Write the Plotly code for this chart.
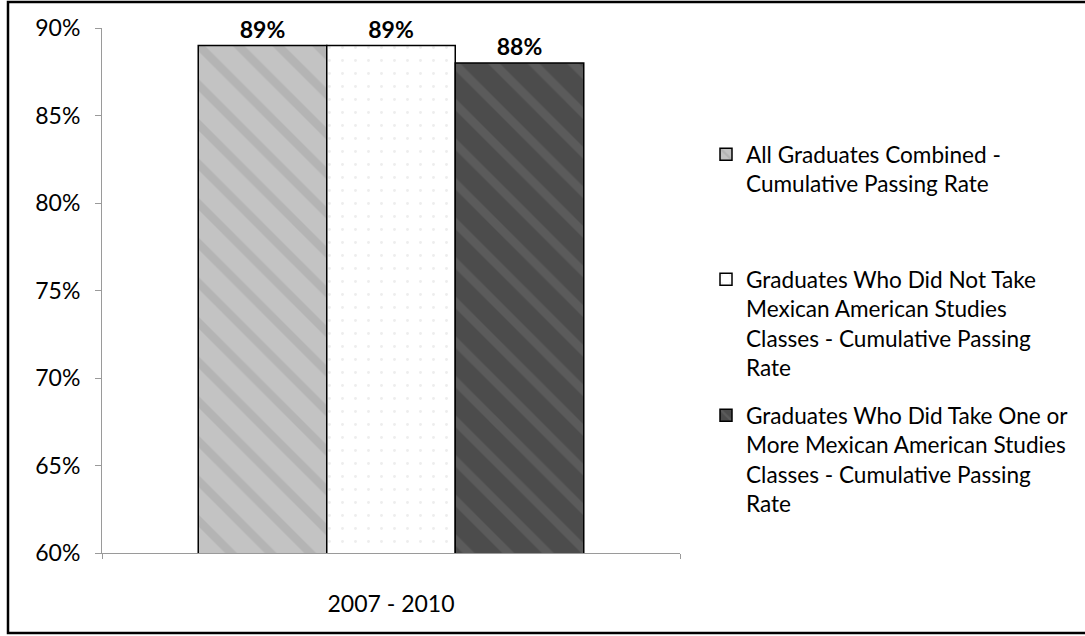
import plotly.graph_objects as go

categories = ["2007 - 2010"]
series_names = [
    "All Graduates Combined -<br>Cumulative Passing Rate",
    "Graduates Who Did Not Take<br>Mexican American Studies<br>Classes - Cumulative Passing<br>Rate",
    "Graduates Who Did Take One or<br>More Mexican American Studies<br>Classes - Cumulative Passing<br>Rate",
]
all_combined = [0.89]
did_not_take = [0.89]
did_take = [0.88]
y_ticks = [0.60, 0.65, 0.70, 0.75, 0.80, 0.85, 0.90]

W, H = 1085, 636
ML, MR, MT, MB = 102, 405, 28, 83
PW, PH = W - ML - MR, H - MT - MB

def px_x(x):
    return (x - ML) / PW

def px_y(y):
    return (H - MB - y) / PH

FONT = "Lato, Carlito, Calibri, 'Open Sans', sans-serif"
FS = 23
LFS = 22.6

styles = [
    dict(color="#c0c0c0", pattern=dict(shape="\\", bgcolor="#c3c3c3", fgcolor="#a2a2a2",
                                        size=28, solidity=0.3, fgopacity=0.45)),
    dict(color="#ffffff", pattern=dict(shape=".", bgcolor="#ffffff", fgcolor="#dcdcdc",
                                        size=13, solidity=0.04, fgopacity=0.5)),
    dict(color="#4f4f4f", pattern=dict(shape="\\", bgcolor="#4c4c4c", fgcolor="#6a6a6a",
                                        size=28, solidity=0.3, fgopacity=0.5)),
]

fig = go.Figure()
values = [all_combined, did_not_take, did_take]
legend_ids = ["legend", "legend2", "legend3"]
for name, vals, st, lg in zip(series_names, values, styles, legend_ids):
    fig.add_trace(go.Bar(
        x=categories, y=vals, name=name,
        marker=dict(color=st["color"], pattern=st["pattern"],
                    line=dict(color="#000000", width=1.5)),
        texttemplate="%{y:.0%}", textposition="outside",
        textfont=dict(family=FONT, size=FS, color="#000000", weight="bold"),
        cliponaxis=False, legend=lg,
    ))

legend_common = dict(
    font=dict(family=FONT, size=LFS, color="#000000"),
    bgcolor="rgba(0,0,0,0)", xanchor="left", yanchor="top",
    xref="container", yref="container",
    valign="top", itemwidth=30, tracegroupgap=0,
)
lx = 706 / W
fig.update_layout(
    legend=dict(x=lx, y=1 - 133 / H, **legend_common),
    legend2=dict(x=lx, y=1 - 258 / H, **legend_common),
    legend3=dict(x=lx, y=1 - 394 / H, **legend_common),
)

fig.update_layout(
    width=W, height=H,
    margin=dict(l=ML, r=MR, t=MT, b=MB, pad=0, autoexpand=False),
    paper_bgcolor="#ffffff", plot_bgcolor="#ffffff",
    barmode="group", bargap=0.333, bargroupgap=0,
    showlegend=True,
    font=dict(family=FONT, size=FS, color="#000000"),
    xaxis=dict(
        showgrid=False, showline=True, linecolor="#9a9a9a", linewidth=1,
        ticks="outside", tickson="boundaries", ticklen=5, tickcolor="#9a9a9a",
        ticklabelstandoff=30, tickfont=dict(family=FONT, size=FS, color="#000000"),
        zeroline=False,
    ),
    yaxis=dict(
        range=[0.60, 0.90], tickvals=y_ticks, tickformat=".0%",
        showgrid=False, showline=True, linecolor="#9a9a9a", linewidth=1,
        ticks="outside", ticklen=6, tickcolor="#9a9a9a",
        ticklabelstandoff=10, tickfont=dict(family=FONT, size=FS, color="#000000"),
        zeroline=False,
    ),
    shapes=[dict(
        type="rect", xref="paper", yref="paper",
        x0=px_x(8), x1=px_x(1095), y0=px_y(633), y1=px_y(2),
        line=dict(color="#000000", width=2.5), fillcolor="rgba(0,0,0,0)", layer="above",
    )],
)

fig.write_html("out.html")
